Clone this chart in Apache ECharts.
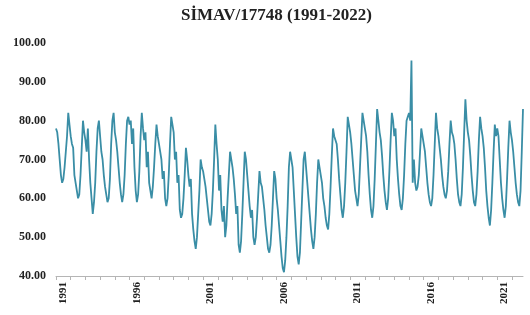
<html>
<body style="margin:0">
<script src="https://cdn.jsdelivr.net/npm/echarts@6/dist/echarts.min.js"></script>
<div id="chart" style="width:530px;height:315px;"></div>
<script>
// monthly values Jan 1991 - Oct 2022
var y1991_1995 = [
  78,77,74,70,66,64,65,68,72,76,82,79,
  76,74,73,66,64,62,60,61,66,73,80,77,
  75,72,78,70,64,60,56,59,64,72,78,80,
  76,72,70,66,63,61,59,60,65,74,80,82,
  77,75,72,68,64,61,59,61,66,74,80,81
];
var y1996_2000 = [
  79,80,74,78,68,62,59,61,67,76,82,78,
  75,77,68,72,64,62,60,63,68,74,79,76,
  74,72,70,65,67,60,58,60,66,74,81,79,
  77,70,72,64,66,57,55,56,60,66,73,70,
  66,63,65,56,52,49,47,50,56,62,70,68
];
var y2001_2005 = [
  67,65,63,60,57,54,53,56,62,70,79,74,
  70,62,66,57,54,58,50,53,60,66,72,70,
  68,65,61,56,58,48,46,49,56,64,72,70,
  66,62,58,55,57,50,48,50,55,61,67,64,
  63,60,57,53,50,47,46,48,53,60,67,65
];
var y2006_2010 = [
  60,57,53,49,45,42,41,44,50,58,68,72,
  70,68,62,56,50,45,43,46,54,62,70,72,
  68,64,60,56,52,49,47,50,56,64,70,68,
  66,64,60,58,55,53,52,56,63,71,78,76,
  76,74,70,65,61,57,55,58,64,72,81,79
];
var y2011_2015 = [
  77,74,70,66,62,60,58,61,68,75,82,80,
  78,76,72,66,61,57,55,58,65,74,83,80,
  77,75,71,66,62,59,57,60,67,75,82,80,
  76,78,70,65,61,58,57,60,66,74,80,81,
  82,80,95.5,64,70,64,62,63,66,72,78,76
];
var y2016_2020 = [
  74,72,68,64,61,59,58,60,66,74,82,78,
  76,73,70,66,63,61,60,62,67,74,80,77,
  76,74,70,65,61,59,58,61,68,77,85.5,80,
  77,75,71,66,62,59,58,61,67,75,81,78,
  76,73,68,62,58,55,53,57,64,72,79,76
];
var y2021_2022 = [
  78,76,70,64,60,57,55,58,65,73,80,77,
  75,72,68,64,61,59,58,62,72,83
];
var values = [].concat(y1991_1995, y1996_2000, y2001_2005, y2006_2010, y2011_2015, y2016_2020, y2021_2022);

var months = [];
for (var i = 0; i < values.length; i++) {
  var yr = 1991 + Math.floor(i / 12);
  var m = (i % 12) + 1;
  months.push(yr + '-' + (m < 10 ? '0' + m : m));
}

var serif = '"Liberation Serif", "Times New Roman", serif';
var chart = echarts.init(document.getElementById('chart'));
chart.setOption({
  animation: false,
  title: {
    text: 'SİMAV/17748 (1991-2022)',
    left: 176,
    top: 2,
    textStyle: { fontFamily: serif, fontWeight: 'bold', fontSize: 17, color: '#222' }
  },
  grid: { left: 56, right: 7, top: 43, bottom: 39 },
  xAxis: {
    type: 'category',
    data: months,
    boundaryGap: false,
    axisLine: { lineStyle: { color: '#b5b5b5', width: 1 } },
    axisTick: {
      interval: function (idx) { return idx % 12 === 0; },
      length: 4,
      lineStyle: { color: '#b5b5b5' }
    },
    axisLabel: {
      interval: function (idx) { return idx % 60 === 6; },
      formatter: function (v) { return v.slice(0, 4); },
      rotate: 90,
      margin: 6,
      fontFamily: serif,
      fontWeight: 'bold',
      fontSize: 11,
      color: '#222'
    },
    splitLine: { show: false }
  },
  yAxis: {
    type: 'value',
    min: 40,
    max: 100,
    interval: 10,
    axisLine: { show: false },
    axisTick: { show: false },
    splitLine: { show: false },
    axisLabel: {
      formatter: function (v) { return v.toFixed(2); },
      margin: 10,
      fontFamily: serif,
      fontWeight: 'bold',
      fontSize: 12,
      color: '#222'
    }
  },
  series: [{
    type: 'line',
    data: values,
    showSymbol: false,
    lineStyle: { color: '#3a8ea6', width: 1.8 },
    itemStyle: { color: '#3a8ea6' }
  }]
});
</script>
</body>
</html>
